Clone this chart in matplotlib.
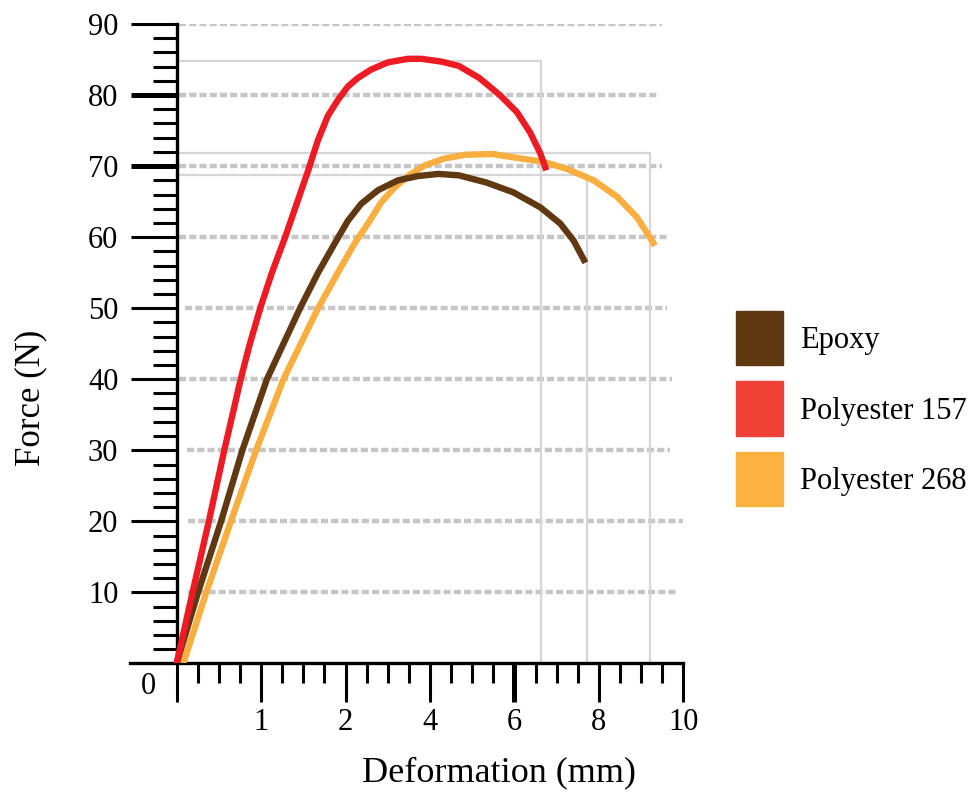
import numpy as np
import matplotlib
matplotlib.use('Agg')
import matplotlib.pyplot as plt
import matplotlib.ticker as ticker
from matplotlib.patches import Rectangle

plt.rcParams['font.family'] = ['Liberation Serif', 'DejaVu Serif']

# values: deformation (mm), force (N)
epoxy_def = [0.0, 0.253, 0.526, 0.778, 1.069, 1.461, 1.675, 1.871, 2.055, 2.371, 2.767, 3.242, 3.717,
             4.197, 4.683, 5.332, 5.978, 6.613, 7.088, 7.404, 7.682]
epoxy_force = [0, 10, 20, 30, 40, 50, 55, 59.1, 62.3, 64.7, 66.6, 68.0, 68.6,
               68.9, 68.7, 67.7, 66.3, 64.2, 61.9, 59.5, 56.4]

p157_def = [0.0, 0.188, 0.381, 0.564, 0.758, 0.867, 0.99, 1.128, 1.285, 1.558, 1.675, 1.792,
            1.909, 2.055, 2.292, 2.608, 3.005, 3.48, 3.796, 4.277, 4.683, 5.169, 5.655, 6.059,
            6.375, 6.613, 6.755]
p157_force = [0, 10, 20, 30, 40, 45, 50, 55, 60, 69.4, 73.7, 77.1,
              79.3, 81.2, 82.4, 83.6, 84.6, 85.1, 85.1, 84.7, 84.1, 82.4, 80.0, 77.6,
              74.7, 71.8, 69.4]

p268_def = [0.078, 0.351, 0.642, 0.941, 1.265, 1.675, 1.909, 2.214, 2.53, 2.846, 3.164, 3.48, 3.876,
            4.36, 4.846, 5.485, 5.898, 6.691, 7.247, 7.879, 8.431, 8.902, 9.333]
p268_force = [0, 10, 20, 30, 40, 50, 55, 59.1, 61.9, 64.9, 67.0, 68.6, 70.1,
              71.1, 71.6, 71.7, 71.3, 70.6, 69.6, 68.0, 65.7, 62.8, 58.8]

names = ['Epoxy', 'Polyester 157', 'Polyester 268']
peak_force = [68.8, 84.8, 71.8]
peak_def = [7.71, 6.62, 9.22]

line_colors = ['#603913', '#ed1c24', '#f9ae40']
legend_colors = ['#603913', '#ef4136', '#fbb040']

x_ticks = [0, 1, 2, 4, 6, 8, 10]
x_labels = ['', '1', '2', '4', '6', '8', '10']
y_ticks = [10, 20, 30, 40, 50, 60, 70, 80, 90]

# the deformation axis is evenly spaced between its labels
mm_knots = [-1, 0, 1, 2, 4, 6, 8, 10]
pos_knots = [-1, 0, 1, 2, 3, 4, 5, 6]


def forward(x):
    return np.interp(x, mm_knots, pos_knots)


def inverse(p):
    return np.interp(p, pos_knots, mm_knots)


fig = plt.figure(figsize=(9.72, 7.92), dpi=100)
ax = fig.add_axes([0.13395, 0.16225, 0.56903, 0.80745])
ax.set_xscale('function', functions=(forward, inverse))
ax.set_xlim(-0.55, 10)
ax.set_ylim(0, 90)

# dotted guide lines (axes-fraction extents)
grid_start = [0.105, 0.105, 0.103, 0.088, 0.099, 0.088, 0.088, 0.088, 0.088]
grid_end = [0.989, 1.0, 0.976, 0.979, 0.970, 0.970, 0.961, 0.956, 0.961]
for y, x0, x1 in zip(y_ticks, grid_start, grid_end):
    ax.axhline(y, x0, x1, color='#c6c6c6', lw=3.2, linestyle=(0, (1.6, 0.7)), zorder=1)

# peak / failure reference lines
for f, d in zip(peak_force, peak_def):
    ax.plot([0, d, d], [f, f, 0], color='#d6d6d6', lw=1.6, zorder=1.5)

series = [(p268_def, p268_force, line_colors[2]),
          (epoxy_def, epoxy_force, line_colors[0]),
          (p157_def, p157_force, line_colors[1])]
for xs, ys, c in series:
    ax.plot(xs, ys, color=c, lw=4.6, solid_capstyle='butt', solid_joinstyle='round', zorder=3)

ax.spines['top'].set_visible(False)
ax.spines['right'].set_visible(False)
ax.spines['left'].set_position(('data', 0))
ax.spines['left'].set_linewidth(2.4)
ax.spines['bottom'].set_linewidth(2.4)

ax.set_xticks(x_ticks)
ax.set_xticklabels(x_labels)
ax.xaxis.set_minor_locator(ticker.FixedLocator(inverse(np.arange(0, 6.01, 0.25))))
ax.set_yticks(y_ticks)
ax.yaxis.set_minor_locator(ticker.MultipleLocator(2))

ax.tick_params(axis='x', which='major', length=28, width=2.2, pad=4, labelsize=22)
ax.tick_params(axis='x', which='minor', length=14.4, width=2.2)
ax.tick_params(axis='y', which='major', length=33, width=2.2, pad=9, labelsize=22)
ax.tick_params(axis='y', which='minor', length=17.3, width=2.2)

for t, v in zip(ax.yaxis.get_major_ticks(), y_ticks):
    if v in (70, 80):
        t.tick1line.set_markeredgewidth(3.6)
for t, v in zip(ax.xaxis.get_major_ticks(), x_ticks):
    if v == 6:
        t.tick1line.set_markeredgewidth(3.6)

ax.text(-0.333, -3.3, '0', fontsize=22, ha='center', va='center', clip_on=False)

ax.set_ylabel('Force (N)', fontsize=25, va='center')
ax.yaxis.set_label_coords(-0.179, 0.415)
ax.set_xlabel('Deformation (mm)', fontsize=26, va='center')
ax.xaxis.set_label_coords(0.666, -0.171)

# legend: colour squares and names
W, H = 972.0, 792.0
for i, (name, c) in enumerate(zip(names, legend_colors)):
    top = 311 + 70.5 * i
    fig.patches.append(Rectangle((736 / W, 1 - (top + 54) / H), 47 / W, 54 / H,
                                 transform=fig.transFigure, color=c))
    fig.text(800 / W, 1 - (top + 37) / H, name, fontsize=22, va='baseline', ha='left')

fig.savefig('out.png', dpi=100)
